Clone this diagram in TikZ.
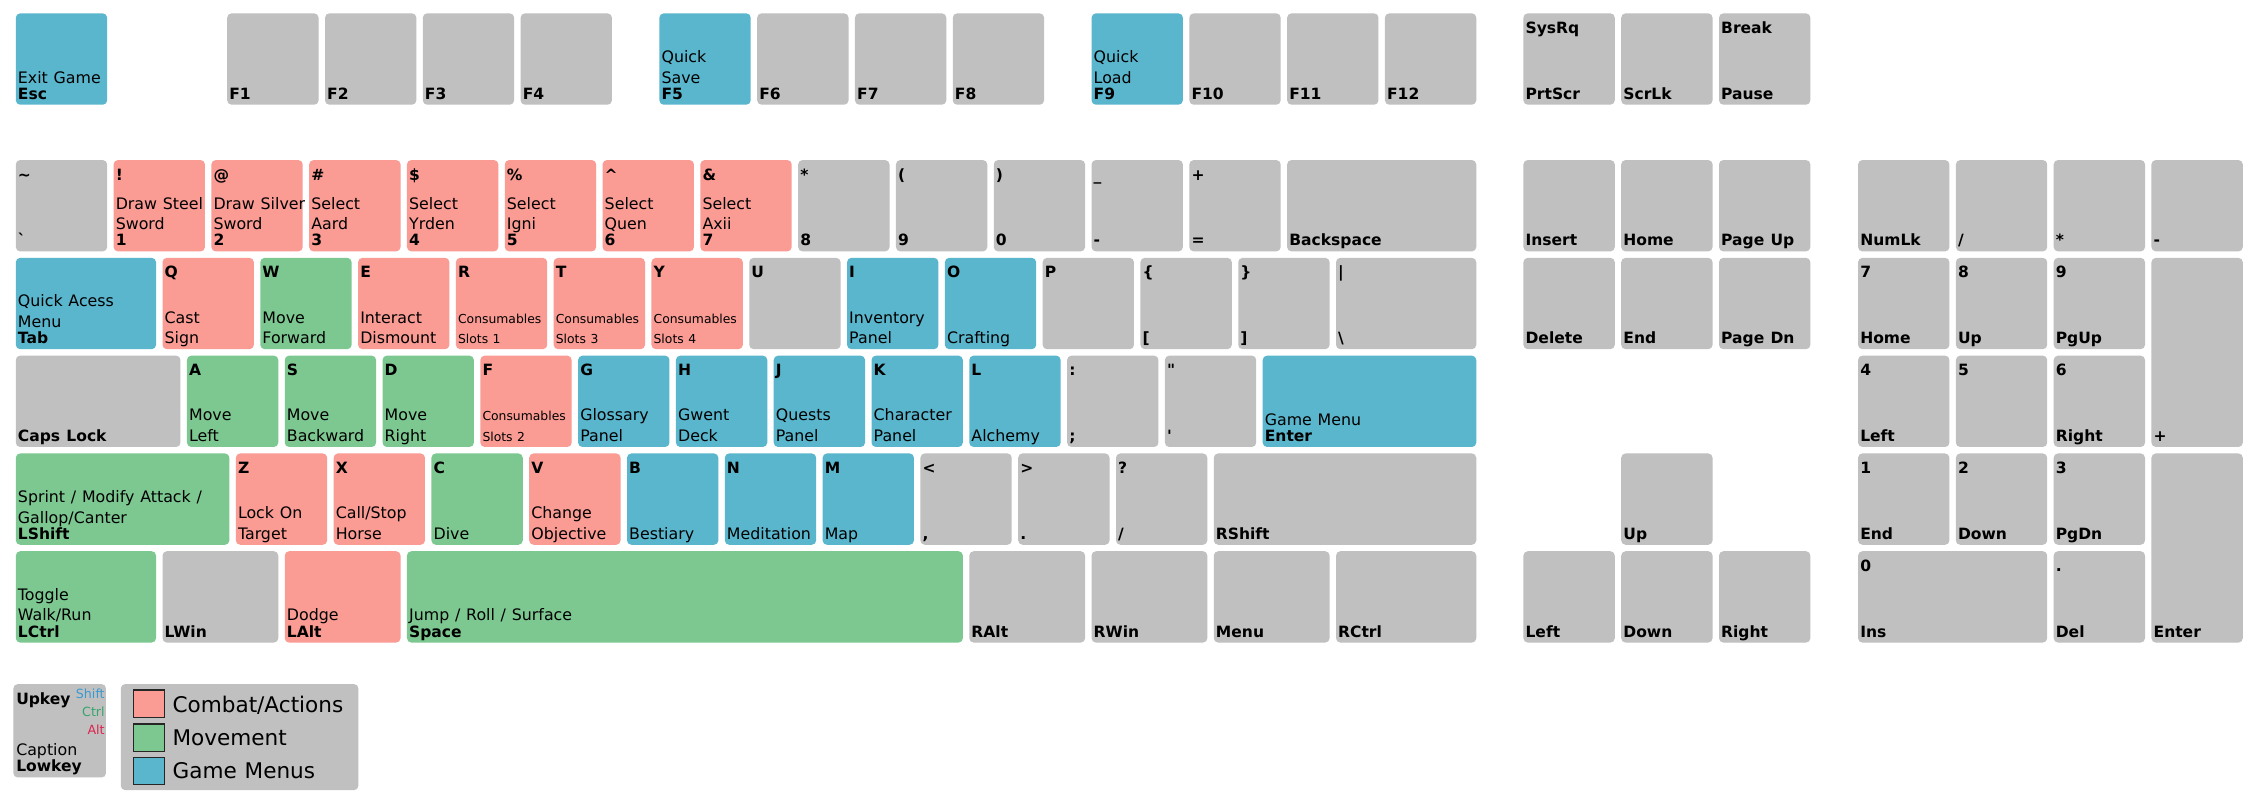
\documentclass[tikz,border=0pt]{standalone}
\usepackage{fontspec}
\setmainfont{DejaVu Sans}[WordSpace=1.15]
\usepackage{etoolbox}
\definecolor{kgray}{HTML}{C0C0C0}
\definecolor{kred}{HTML}{FA9B94}
\definecolor{kgreen}{HTML}{7DC891}
\definecolor{kblue}{HTML}{5AB6CD}
\definecolor{lshift}{HTML}{3A9AD0}
\definecolor{lctrl}{HTML}{35A56A}
\definecolor{lalt}{HTML}{DC2450}
\newcommand{\capf}{\fontsize{11}{12}\selectfont}
\newcommand{\lblf}{\fontsize{10.8}{12}\selectfont\bfseries}
\newcommand{\cons}{\fontsize{8.6}{10}\selectfont}
\newcommand{\smf}{\fontsize{8.8}{10}\selectfont}
\newcommand{\legf}{\fontsize{15}{17}\selectfont}
\tikzset{
  keybox/.style={rounded corners=3pt, draw=none, inner sep=0pt, outer sep=0pt, minimum height=63.5pt, anchor=north west},
  ktxt/.style={anchor=base west, inner sep=0pt, outer sep=0pt, font=\capf},
  klbl/.style={anchor=base west, inner sep=0pt, outer sep=0pt, font=\lblf},
  swatch/.style={draw=black!85, line width=0.8pt, inner sep=0pt, minimum width=21.3pt, minimum height=19pt, anchor=north west},
  legtxt/.style={anchor=base west, inner sep=0pt, outer sep=0pt, font=\legf},
}
% name, x, y, width, colour, top label, caption 1, caption 2, bottom label
\newcommand{\kb}[9]{%
 \node[keybox, fill=#5, minimum width=#4pt] (#1) at (#2,#3) {};
 \ifblank{#6}{}{\node[klbl, xshift=1.5pt, yshift=-14pt] (#1-t) at (#1.north west) {#6};}
 \ifblank{#9}{%
   \ifblank{#8}{}{\node[ktxt, xshift=1.5pt, yshift=-59.7pt] (#1-c2) at (#1.north west) {#8};}%
   \ifblank{#7}{}{\node[ktxt, xshift=1.5pt, yshift=-45.3pt] (#1-c1) at (#1.north west) {#7};}%
 }{%
   \node[klbl, xshift=1.5pt, yshift=-59.7pt] (#1-b) at (#1.north west) {#9};
   \ifblank{#8}{}{\node[ktxt, xshift=1.5pt, yshift=-48.5pt] (#1-c2) at (#1.north west) {#8};}%
   \ifblank{#7}{}{\node[ktxt, xshift=1.5pt, yshift=-34.1pt] (#1-c1) at (#1.north west) {#7};}%
 }%
}
% tall key: name, x, y, width, bottom label
\newcommand{\kbt}[5]{%
 \node[keybox, fill=kgray, minimum width=#4pt, minimum height=131.5pt] (#1) at (#2,#3) {};
 \node[klbl, xshift=1.5pt, yshift=-127.7pt] (#1-b) at (#1.north west) {#5};
}
\begin{document}
\begin{tikzpicture}[x=1pt, y=-1pt]
\useasboundingbox (0,0) rectangle (1568,556.3);
\fill[white] (0,0) rectangle (1568,556.3);
% function row
\kb{kesc}{11}{9.3}{63.5}{kblue}{}{}{Exit Game}{Esc}
\kb{kf1}{158}{9.3}{63.5}{kgray}{}{}{}{F1}
\kb{kf2}{226}{9.3}{63.5}{kgray}{}{}{}{F2}
\kb{kf3}{294}{9.3}{63.5}{kgray}{}{}{}{F3}
\kb{kf4}{362}{9.3}{63.5}{kgray}{}{}{}{F4}
\kb{kf5}{458.5}{9.3}{63.5}{kblue}{}{Quick}{Save}{F5}
\kb{kf6}{526.5}{9.3}{63.5}{kgray}{}{}{}{F6}
\kb{kf7}{594.5}{9.3}{63.5}{kgray}{}{}{}{F7}
\kb{kf8}{662.5}{9.3}{63.5}{kgray}{}{}{}{F8}
\kb{kf9}{759}{9.3}{63.5}{kblue}{}{Quick}{Load}{F9}
\kb{kf10}{827}{9.3}{63.5}{kgray}{}{}{}{F10}
\kb{kf11}{895}{9.3}{63.5}{kgray}{}{}{}{F11}
\kb{kf12}{963}{9.3}{63.5}{kgray}{}{}{}{F12}
\kb{kprt}{1059.3}{9.3}{63.5}{kgray}{SysRq}{}{}{PrtScr}
\kb{kscr}{1127.3}{9.3}{63.5}{kgray}{}{}{}{ScrLk}
\kb{kpau}{1195.3}{9.3}{63.5}{kgray}{Break}{}{}{Pause}
% number row
\kb{ktil}{11}{111.3}{63.5}{kgray}{\textasciitilde}{}{}{\textasciigrave}
\kb{k1}{79}{111.3}{63.5}{kred}{!}{Draw Steel}{Sword}{1}
\kb{k2}{147}{111.3}{63.5}{kred}{@}{Draw Silver}{Sword}{2}
\kb{k3}{215}{111.3}{63.5}{kred}{\#}{Select}{Aard}{3}
\kb{k4}{283}{111.3}{63.5}{kred}{\$}{Select}{Yrden}{4}
\kb{k5}{351}{111.3}{63.5}{kred}{\%}{Select}{Igni}{5}
\kb{k6}{419}{111.3}{63.5}{kred}{\textasciicircum}{Select}{Quen}{6}
\kb{k7}{487}{111.3}{63.5}{kred}{\&}{Select}{Axii}{7}
\kb{k8}{555}{111.3}{63.5}{kgray}{*}{}{}{8}
\kb{k9}{623}{111.3}{63.5}{kgray}{(}{}{}{9}
\kb{k0}{691}{111.3}{63.5}{kgray}{)}{}{}{0}
\kb{kmin}{759}{111.3}{63.5}{kgray}{\_}{}{}{-}
\kb{keq}{827}{111.3}{63.5}{kgray}{+}{}{}{=}
\kb{kbsp}{895}{111.3}{131.5}{kgray}{}{}{}{Backspace}
% tab row
\kb{ktab}{11}{179.3}{97.5}{kblue}{}{Quick Acess}{Menu}{Tab}
\kb{kq}{113}{179.3}{63.5}{kred}{Q}{Cast}{Sign}{}
\kb{kw}{181}{179.3}{63.5}{kgreen}{W}{Move}{Forward}{}
\kb{ke}{249}{179.3}{63.5}{kred}{E}{Interact}{Dismount}{}
\kb{kr}{317}{179.3}{63.5}{kred}{R}{\cons Consumables}{\cons Slots 1}{}
\kb{kt}{385}{179.3}{63.5}{kred}{T}{\cons Consumables}{\cons Slots 3}{}
\kb{ky}{453}{179.3}{63.5}{kred}{Y}{\cons Consumables}{\cons Slots 4}{}
\kb{ku}{521}{179.3}{63.5}{kgray}{U}{}{}{}
\kb{ki}{589}{179.3}{63.5}{kblue}{I}{Inventory}{Panel}{}
\kb{ko}{657}{179.3}{63.5}{kblue}{O}{}{Crafting}{}
\kb{kp}{725}{179.3}{63.5}{kgray}{P}{}{}{}
\kb{klbr}{793}{179.3}{63.5}{kgray}{\{}{}{}{[}
\kb{krbr}{861}{179.3}{63.5}{kgray}{\}}{}{}{]}
\kb{kbsl}{929}{179.3}{97.5}{kgray}{|}{}{}{\textbackslash}
% caps row
\kb{kcaps}{11}{247.3}{114.5}{kgray}{}{}{}{Caps Lock}
\kb{ka}{130}{247.3}{63.5}{kgreen}{A}{Move}{Left}{}
\kb{ks}{198}{247.3}{63.5}{kgreen}{S}{Move}{Backward}{}
\kb{kd}{266}{247.3}{63.5}{kgreen}{D}{Move}{Right}{}
\kb{kf}{334}{247.3}{63.5}{kred}{F}{\cons Consumables}{\cons Slots 2}{}
\kb{kg}{402}{247.3}{63.5}{kblue}{G}{Glossary}{Panel}{}
\kb{kh}{470}{247.3}{63.5}{kblue}{H}{Gwent}{Deck}{}
\kb{kj}{538}{247.3}{63.5}{kblue}{J}{Quests}{Panel}{}
\kb{kk}{606}{247.3}{63.5}{kblue}{K}{Character}{Panel}{}
\kb{kl}{674}{247.3}{63.5}{kblue}{L}{}{Alchemy}{}
\kb{kcol}{742}{247.3}{63.5}{kgray}{:}{}{}{;}
\kb{kquo}{810}{247.3}{63.5}{kgray}{\textquotedbl}{}{}{\textquotesingle}
\kb{kent}{878}{247.3}{148.5}{kblue}{}{}{Game Menu}{Enter}
% shift row
\kb{klsh}{11}{315.3}{148.5}{kgreen}{}{Sprint / Modify Attack /}{Gallop/Canter}{LShift}
\kb{kz}{164}{315.3}{63.5}{kred}{Z}{Lock On}{Target}{}
\kb{kx}{232}{315.3}{63.5}{kred}{X}{Call/Stop}{Horse}{}
\kb{kc}{300}{315.3}{63.5}{kgreen}{C}{}{Dive}{}
\kb{kv}{368}{315.3}{63.5}{kred}{V}{Change}{Objective}{}
\kb{kb}{436}{315.3}{63.5}{kblue}{B}{}{Bestiary}{}
\kb{kn}{504}{315.3}{63.5}{kblue}{N}{}{Meditation}{}
\kb{km}{572}{315.3}{63.5}{kblue}{M}{}{Map}{}
\kb{kcom}{640}{315.3}{63.5}{kgray}{<}{}{}{,}
\kb{kdot}{708}{315.3}{63.5}{kgray}{>}{}{}{.}
\kb{ksl}{776}{315.3}{63.5}{kgray}{?}{}{}{/}
\kb{krsh}{844}{315.3}{182.5}{kgray}{}{}{}{RShift}
% bottom row
\kb{klct}{11}{383.3}{97.5}{kgreen}{}{Toggle}{Walk/Run}{LCtrl}
\kb{klwi}{113}{383.3}{80.5}{kgray}{}{}{}{LWin}
\kb{klal}{198}{383.3}{80.5}{kred}{}{}{Dodge}{LAlt}
\kb{kspc}{283}{383.3}{386.5}{kgreen}{}{}{Jump / Roll / Surface}{Space}
\kb{kral}{674}{383.3}{80.5}{kgray}{}{}{}{RAlt}
\kb{krwi}{759}{383.3}{80.5}{kgray}{}{}{}{RWin}
\kb{kmen}{844}{383.3}{80.5}{kgray}{}{}{}{Menu}
\kb{krct}{929}{383.3}{97.5}{kgray}{}{}{}{RCtrl}
% navigation cluster
\kb{kins}{1059.3}{111.3}{63.5}{kgray}{}{}{}{Insert}
\kb{khom}{1127.3}{111.3}{63.5}{kgray}{}{}{}{Home}
\kb{kpgu}{1195.3}{111.3}{63.5}{kgray}{}{}{}{Page Up}
\kb{kdel}{1059.3}{179.3}{63.5}{kgray}{}{}{}{Delete}
\kb{kend}{1127.3}{179.3}{63.5}{kgray}{}{}{}{End}
\kb{kpgd}{1195.3}{179.3}{63.5}{kgray}{}{}{}{Page Dn}
\kb{kup}{1127.3}{315.3}{63.5}{kgray}{}{}{}{Up}
\kb{klft}{1059.3}{383.3}{63.5}{kgray}{}{}{}{Left}
\kb{kdwn}{1127.3}{383.3}{63.5}{kgray}{}{}{}{Down}
\kb{krgt}{1195.3}{383.3}{63.5}{kgray}{}{}{}{Right}
% numeric keypad
\kb{knum}{1292}{111.3}{63.5}{kgray}{}{}{}{NumLk}
\kb{kpsl}{1360}{111.3}{63.5}{kgray}{}{}{}{/}
\kb{kpst}{1428}{111.3}{63.5}{kgray}{}{}{}{*}
\kb{kpmi}{1496}{111.3}{63.5}{kgray}{}{}{}{-}
\kb{kp7}{1292}{179.3}{63.5}{kgray}{7}{}{}{Home}
\kb{kp8}{1360}{179.3}{63.5}{kgray}{8}{}{}{Up}
\kb{kp9}{1428}{179.3}{63.5}{kgray}{9}{}{}{PgUp}
\kbt{kppl}{1496}{179.3}{63.5}{+}
\kb{kp4}{1292}{247.3}{63.5}{kgray}{4}{}{}{Left}
\kb{kp5}{1360}{247.3}{63.5}{kgray}{5}{}{}{}
\kb{kp6}{1428}{247.3}{63.5}{kgray}{6}{}{}{Right}
\kb{kp1}{1292}{315.3}{63.5}{kgray}{1}{}{}{End}
\kb{kp2}{1360}{315.3}{63.5}{kgray}{2}{}{}{Down}
\kb{kp3}{1428}{315.3}{63.5}{kgray}{3}{}{}{PgDn}
\kbt{kpen}{1496}{315.3}{63.5}{Enter}
\kb{kp0}{1292}{383.3}{131.5}{kgray}{0}{}{}{Ins}
\kb{kpdt}{1428}{383.3}{63.5}{kgray}{.}{}{}{Del}
% legend: key captions
\node[keybox, fill=kgray, minimum width=64.4pt, minimum height=64.9pt] (lgk) at (9.3,475.7) {};
\node[klbl, xshift=2pt, yshift=-13.9pt] (lgk-up) at (lgk.north west) {Upkey};
\node[anchor=base east, inner sep=0pt, font=\smf, text=lshift, xshift=-0.7pt, yshift=-9.9pt] (lgk-sh) at (lgk.north east) {Shift};
\node[anchor=base east, inner sep=0pt, font=\smf, text=lctrl, xshift=-0.7pt, yshift=-22.7pt] (lgk-ct) at (lgk.north east) {Ctrl};
\node[anchor=base east, inner sep=0pt, font=\smf, text=lalt, xshift=-0.7pt, yshift=-35.3pt] (lgk-al) at (lgk.north east) {Alt};
\node[ktxt, xshift=2pt, yshift=-49.3pt] (lgk-ca) at (lgk.north west) {Caption};
\node[klbl, xshift=2pt, yshift=-61pt] (lgk-lo) at (lgk.north west) {Lowkey};
% legend: colours
\node[keybox, fill=kgray, minimum width=165.2pt, minimum height=73.7pt] (leg) at (84,475.7) {};
\node[swatch, fill=kred] (sw1) at (92.7,479.4) {};
\node[swatch, fill=kgreen] (sw2) at (92.7,503) {};
\node[swatch, fill=kblue] (sw3) at (92.7,526.2) {};
\node[legtxt] (lt1) at (120,495.6) {Combat/Actions};
\node[legtxt] (lt2) at (120,518.4) {Movement};
\node[legtxt] (lt3) at (120,541.5) {Game Menus};
\end{tikzpicture}
\end{document}
